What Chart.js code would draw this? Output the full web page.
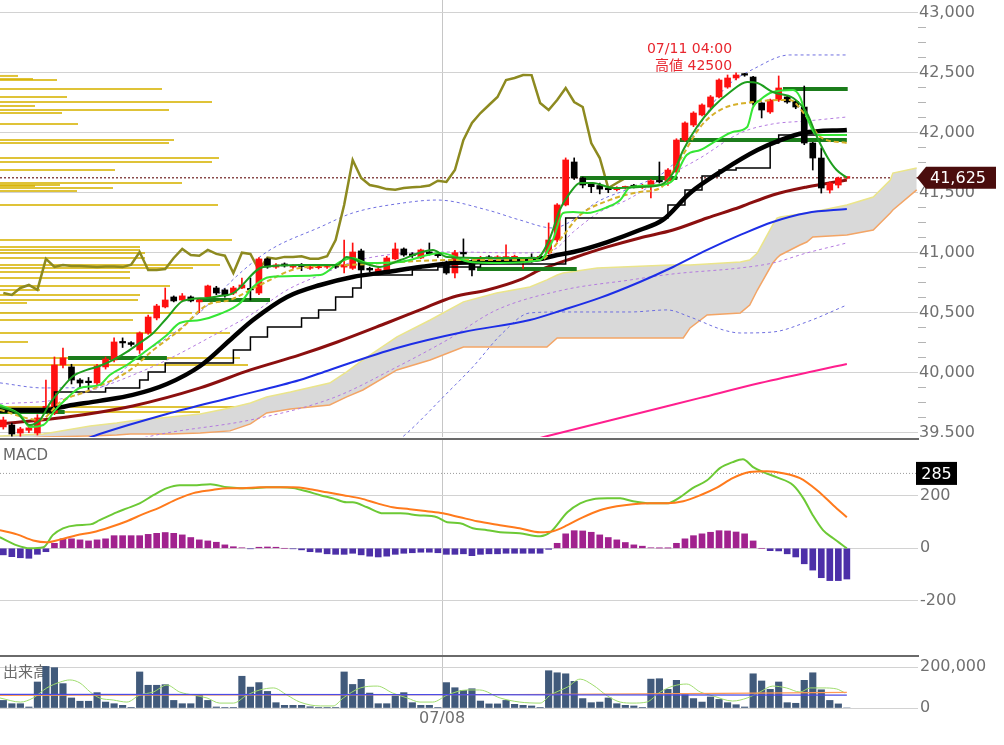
<!DOCTYPE html>
<html>
<head>
<meta charset="utf-8">
<script src="https://cdn.jsdelivr.net/npm/chart.js@4.4.1/dist/chart.umd.min.js"></script>
<style>
html,body{margin:0;padding:0;background:#fff;width:1004px;height:745px;overflow:hidden}
.panel{position:absolute;left:0;width:1004px;overflow:hidden}
.panel canvas{position:absolute;left:0}
</style>
</head>
<body>
<div class="panel" style="top:0;height:437px"><canvas id="cMain" width="1004" height="477" style="top:-20px"></canvas></div>
<div class="panel" style="top:437px;height:220px"><canvas id="cMacd" width="1004" height="257" style="top:-18px"></canvas></div>
<div class="panel" style="top:657px;height:88px"><canvas id="cVol" width="1004" height="108" style="top:-20px"></canvas></div>
<script>
// ---------- axis / category data ----------
const xMin = -0.39, xMax = 107.35;
const sessionTickIndex = [51.5];
const sessionTickLabels = ['07/08'];
const priceTickFirst = 39500, priceTickLast = 43000, priceMinorStep = 125, priceLabelStep = 500;
const macdTicks = [-200, 0, 200];
const volumeTicks = [0, 200000];

// ---------- candles (2h bars) ----------
const opens = [39548,39564,39497,39520,39497,39690,39664,40064,40048,39939,
 39925,39914,40048,40106,40255,40250,40189,40331,40456,40548,
 40631,40606,40631,40590,40631,40706,40690,40664,40706,40700,
 40664,40948,40880,40906,40880,40890,40870,40875,40880,40885,
 40880,40870,41015,40870,40831,40856,40948,41031,40990,40956,
 41006,40990,40915,40831,41000,40914,40940,40965,40950,40955,
 40950,40940,40960,40950,40998,41106,41398,41756,41622,41570,
 41560,41530,41525,41540,41560,41545,41560,41600,41600,41673,
 41939,42064,42148,42214,42298,42381,42456,42490,42464,42248,
 42173,42273,42298,42260,42214,41914,41789,41522,41564,41622];
const highs = [39630,39580,39545,39560,39650,39939,40131,40206,40070,39950,
 39960,40070,40130,40290,40290,40260,40340,40480,40570,40706,
 40640,40660,40640,40615,40730,40720,40700,40720,40789,40789,
 40960,40956,40910,40915,40900,40910,40890,40890,40895,40895,
 41106,41081,41030,40880,40880,40970,41081,41040,41000,41030,
 41081,41000,40930,41020,41115,40940,40970,40975,40975,41065,
 40980,40960,40990,40980,41248,41410,41790,41790,41630,41580,
 41580,41545,41550,41555,41570,41570,41610,41756,41700,41950,
 42090,42175,42240,42310,42450,42481,42500,42495,42470,42250,
 42280,42473,42310,42270,42389,41920,41873,41590,41630,41630];
const lows = [39530,39470,39470,39500,39480,39680,39650,40040,39906,39880,
 39860,39900,40030,40090,40210,40220,40160,40320,40440,40540,
 40590,40595,40590,40500,40620,40650,40630,40650,40700,40606,
 40650,40870,40870,40880,40870,40850,40860,40865,40870,40870,
 40831,40860,40800,40840,40820,40850,40940,40970,40960,40950,
 40980,40960,40820,40790,40960,40806,40930,40940,40940,40940,
 40940,40870,40920,40940,40990,41090,41390,41610,41540,41500,
 41490,41500,41515,41530,41540,41535,41456,41580,41560,41660,
 41930,42050,42140,42200,42290,42370,42440,42470,42230,42123,
 42160,42260,42245,42200,41900,41689,41497,41497,41540,41615];
const closes = [39606,39489,39531,39540,39623,39720,40064,40123,39939,39914,
 39917,40056,40114,40256,40248,40235,40331,40464,40556,40606,
 40598,40640,40598,40606,40723,40664,40648,40706,40731,40690,
 40948,40881,40898,40890,40890,40885,40880,40885,40885,40880,
 40900,41006,40856,40856,40864,40956,41031,40981,40975,41023,
 40990,40975,40831,41000,40990,40856,40960,40950,40965,40965,
 40970,40950,40950,40970,41106,41398,41773,41622,41564,41550,
 41530,41525,41540,41545,41550,41560,41600,41590,41689,41939,
 42081,42164,42231,42298,42439,42456,42481,42480,42248,42189,
 42273,42373,42256,42214,41914,41789,41539,41581,41622,41625];
const chikouShift = 25;
const lastPrice = 41625;
const highMark = { index: 86, value: 42500, time: '07/11 04:00', label: '高値' };

// ---------- overlay lines: [barIndex, price] ----------
const ma5Line = [[-0.4,39714],[1.6,39664],[3.1,39564],[4.3,39606],[5.5,39748],[6.7,39856],[8.2,39973],[9.8,40023],[11.3,40056],[12.9,40106],[14.5,40173],[16.0,40248],[17.6,40331],[19.2,40456],[21.1,40598],[23.9,40623],[25.4,40639],[27.0,40664],[30.5,40881],[34.8,40898],[39.2,40898],[40.3,40964],[41.9,40923],[44.2,40881],[46.6,40939],[50.4,41023],[52.1,40964],[56.8,40956],[62.6,40956],[64.2,41131],[65.3,41356],[66.5,41498],[67.7,41581],[69.2,41581],[71.6,41539],[74.7,41548],[77.1,41564],[78.6,41664],[79.8,41856],[81.4,42048],[83.3,42214],[85.3,42339],[87.3,42423],[88.5,42414],[90.3,42339],[92.7,42289],[94.3,42164],[95.5,41964],[96.7,41798],[97.8,41689],[99,41625]];
const tenkanLine = [[-0.4,39731],[2.0,39648],[3.1,39548],[4.7,39564],[6.1,39690],[7.5,39790],[9.0,39873],[11.3,39898],[12.5,39981],[14.5,40064],[16.9,40189],[19.2,40314],[20.7,40414],[23.1,40439],[25.4,40489],[27.8,40581],[29.3,40714],[31.3,40798],[37.2,40814],[39.5,40923],[41.0,40956],[42.7,40914],[46.6,40923],[51.3,40998],[54.8,40923],[58.3,40914],[63.0,40939],[64.5,41106],[65.7,41331],[66.9,41339],[68.5,41331],[70.9,41381],[72.4,41440],[73.6,41548],[77.1,41564],[78.6,41606],[80.2,41814],[81.8,41856],[83.8,41939],[85.6,42006],[87.3,42048],[88.0,42214],[88.8,42273],[90.3,42339],[92.7,42356],[93.5,42298],[94.3,42131],[95.5,41981],[99,41981]];
const ma10Line = [[-0.4,39689],[4.3,39606],[6.7,39756],[10.2,39856],[14.9,40023],[17.6,40189],[20.7,40356],[23.9,40564],[26.6,40606],[30.1,40731],[34.8,40873],[40.7,40898],[46.6,40923],[52.4,40939],[63.0,40939],[65.3,41106],[67.7,41314],[71.2,41440],[74.7,41506],[77.1,41539],[79.4,41773],[81.8,42048],[84.1,42189],[88.0,42256],[92.3,42273],[94.1,42148],[95.9,41964],[99,41914]];
const ma25Line = [[-0.4,39689],[4.9,39689],[7.5,39723],[11.3,39765],[15.2,39815],[19.2,39906],[23.1,40056],[27.0,40298],[29.3,40439],[33.3,40631],[37.2,40731],[41.0,40798],[45.0,40839],[48.9,40881],[52.8,40914],[56.8,40923],[60.6,40931],[63.0,40948],[65.0,40981],[66.9,41006],[70.9,41089],[74.7,41189],[77.4,41273],[80.6,41498],[84.5,41689],[88.5,41856],[91.2,41939],[93.9,41998],[99,42023]];
const kijunLine = [[-0.4,39673],[6,39839],[12,39873],[16,39939],[17,40006],[19,40081],[27,40189],[29,40298],[31,40381],[35,40456],[37,40523],[39,40631],[41,40706],[42,40814],[48,40856],[51,40881],[56,40906],[66,41289],[78,41398],[80,41523],[82,41639],[84,41689],[86,41706],[90,41914],[91,41981],[99,41981]];
const ma75Line = [[-0.4,39573],[7.5,39631],[15.2,39723],[23.1,39873],[29.0,40023],[34.8,40148],[39.2,40256],[45.0,40414],[48.9,40523],[52.8,40631],[56.8,40689],[60.6,40773],[63.0,40856],[66.9,40956],[70.9,41048],[74.7,41123],[78.6,41189],[82.6,41289],[86.5,41381],[90.3,41481],[94.3,41548],[99,41606]];
const ma100Line = [[9.0,39430],[11.3,39489],[19.2,39656],[27.0,39798],[34.8,39939],[38.3,40023],[46.2,40206],[54.0,40339],[61.8,40439],[65.7,40523],[70.0,40623],[74.7,40756],[78.6,40881],[82.6,41023],[86.5,41148],[90.3,41256],[94.3,41331],[99,41364]];
const ma200Line = [[63.0,39456],[65.3,39498],[74.7,39664],[81.8,39790],[88.8,39914],[99,40073]];
const bbUpper1 = [[-0.4,39740],[6.7,39781],[17.2,40040],[25.4,40339],[29.0,40481],[33.3,40689],[37.2,40814],[41.0,40923],[45.0,40981],[52.8,41006],[60.6,40998],[64.5,41023],[66.9,41173],[70.0,41340],[73.2,41440],[77.1,41606],[81.8,41790],[86.5,41998],[90.3,42073],[94.3,42098],[99,42131]];
const bbLower1 = [[15.2,39439],[19.2,39498],[29.0,39606],[38.7,39790],[46.2,40048],[52.1,40273],[57.9,40523],[65.7,40689],[73.6,40773],[78.6,40823],[86.5,40873],[90.3,40914],[94.3,40998],[99,41081]];
const bbUpper2 = [[-0.4,39915],[4.7,39873],[11.3,39881],[16.0,40148],[19.2,40289],[23.1,40506],[27.8,40831],[31.3,41023],[37.2,41214],[41.0,41331],[46.9,41414],[50.9,41439],[56.8,41356],[60.6,41273],[64.5,41206],[66.5,41256],[69.7,41423],[73.6,41539],[78.3,41714],[80.6,41940],[84.5,42356],[88.5,42548],[92.3,42648],[99,42648]];
const bbLower2 = [[44.2,39314],[47.4,39498],[52.1,39831],[55.1,40048],[58.6,40331],[61.8,40498],[65.7,40506],[73.6,40506],[77.9,40523],[80.6,40464],[84.5,40356],[86.5,40331],[90.3,40339],[94.3,40423],[99,40564]];
const cloudIndex = [-0.4,4.7,10.2,13.3,14.9,19.6,23.1,26.6,29.0,30.9,33.7,38.3,40.3,42.2,46.2,50.1,54.0,57.9,61.8,63.8,65.0,65.7,69.7,78.3,79.8,80.6,82.6,86.5,87.6,88.5,90.3,90.8,91.2,93.5,94.3,95.0,99.0,102.1,104.1,104.4,107.2];
const senkouA = [39473,39489,39556,39581,39598,39631,39656,39706,39748,39798,39839,39914,40006,40106,40298,40439,40590,40664,40714,40773,40814,40831,40873,40898,40898,40898,40906,40923,40939,40998,41231,41289,41298,41323,41331,41339,41398,41464,41606,41664,41706];
const senkouB = [39439,39464,39473,39481,39489,39489,39498,39515,39573,39664,39698,39731,39798,39856,40023,40106,40214,40214,40214,40214,40289,40289,40289,40289,40289,40373,40481,40498,40564,40689,40914,40956,40981,41064,41089,41131,41148,41189,41331,41356,41523];
// [startIndex, endIndex, price]
const levelLines = [[-0.4,7.2,39673],[7.6,19.2,40123],[22.7,31.3,40606],[55.6,67.3,40864],[67.7,79.1,41623],[79.4,99,41939],[91.5,99.1,42364]];
// price-by-volume profile
const profilePrices = [42473,42448,42439,42364,42298,42256,42223,42189,42164,42073,41939,41914,41789,41756,41689,41581,41564,41556,41539,41514,41398,41106,41048,41023,40998,40956,40898,40873,40839,40789,40723,40689,40648,40606,40581,40498,40439,40331,40256,40123,40064,39714,39673];
const profileVolumes = [900,1650,2850,8100,3350,10600,1750,8450,3100,3900,8700,8450,10950,10600,5750,9100,3000,1750,5650,3850,10900,11600,7000,7000,7250,7250,11000,9650,6500,6500,8500,2000,7000,6900,1350,9600,6650,11500,1400,12000,12400,12500,10000];
const profileMax = 45900;

// ---------- MACD ----------
const macdLine = [[-0.4,42],[1.6,11],[3.1,0],[4.7,4],[5.8,50],[7.0,76],[8.6,88],[10.2,91],[11.3,107],[13.3,137],[14.5,152],[16.0,171],[17.6,202],[19.2,229],[20.7,240],[22.3,240],[24.3,244],[26.3,232],[27.8,229],[29.3,229],[30.9,232],[32.5,232],[34.0,229],[35.6,217],[37.2,202],[38.7,190],[40.3,175],[41.0,175],[42.7,156],[44.6,133],[46.6,133],[48.6,126],[50.9,118],[52.1,99],[53.6,95],[55.1,76],[56.8,69],[58.3,61],[60.6,57],[63.0,46],[64.2,61],[66.2,137],[67.7,171],[69.2,187],[70.9,190],[72.4,190],[73.9,179],[75.9,171],[77.9,171],[79.4,194],[80.9,229],[82.6,259],[84.1,305],[85.6,328],[86.8,339],[88.0,309],[89.2,290],[90.8,270],[92.7,240],[93.9,190],[95.0,126],[96.2,69],[97.4,38],[99,0]];
const signalLine = [[-0.4,69],[1.6,53],[3.5,30],[5.1,23],[6.7,34],[8.6,50],[10.5,61],[12.5,80],[14.5,103],[16.4,130],[18.4,156],[20.4,187],[22.3,210],[24.3,221],[26.3,229],[28.1,229],[30.1,232],[32.1,232],[34.0,232],[36.0,225],[38.0,213],[39.9,202],[41.9,190],[43.9,171],[45.7,156],[47.7,149],[49.7,141],[51.6,133],[53.6,118],[55.6,103],[58.3,88],[60.6,76],[63.0,61],[64.5,65],[66.2,88],[68.0,118],[70.0,145],[72.0,160],[73.9,168],[75.9,171],[77.9,171],[79.8,179],[81.8,202],[83.8,232],[85.6,267],[87.6,290],[89.6,293],[91.5,286],[93.5,267],[95.5,221],[97.4,164],[99,118]];
const macdHist = [-25,-32,-36,-38,-23,-13,19,36,36,32,28,32,36,48,48,48,48,53,57,60,57,51,41,32,28,23,13,6,2,-2,4,5,4,0,-2,-6,-13,-15,-21,-23,-23,-19,-25,-30,-33,-30,-23,-19,-17,-15,-15,-17,-23,-23,-21,-28,-23,-21,-21,-19,-19,-19,-19,-19,-4,19,55,67,66,61,51,41,32,22,13,8,2,1,1,19,36,48,55,61,67,66,62,55,28,0,-9,-10,-21,-33,-59,-83,-112,-123,-123,-117];
const macdMarker = 285;

// ---------- volume ----------
const volumes = [37000,21000,21000,5000,127000,203000,197000,119000,49000,33000,33000,75000,29000,21000,13000,3000,176000,111000,111000,114000,37000,21000,21000,65000,37000,5000,2000,2000,155000,102000,124000,81000,26000,13000,13000,13000,6000,2000,2000,2000,176000,115000,140000,73000,21000,21000,59000,75000,26000,13000,13000,2000,124000,99000,86000,94000,34000,20000,20000,37000,18000,13000,10000,2000,182000,172000,167000,130000,46000,26000,29000,49000,21000,13000,10000,2000,141000,143000,91000,135000,65000,46000,29000,54000,42000,26000,16000,5000,167000,132000,91000,127000,26000,23000,135000,172000,89000,37000,20000,0];
const volMaShort = [[-0.4,49000],[2.0,29000],[3.5,49000],[5.1,98000],[6.7,127000],[7.8,137000],[9.0,122000],[10.2,78000],[11.3,49000],[12.9,39000],[14.5,29000],[16.0,63000],[17.6,78000],[19.2,112000],[20.7,78000],[22.3,63000],[23.9,49000],[25.4,24000],[27.0,24000],[28.6,63000],[30.1,88000],[31.7,98000],[33.3,63000],[34.8,29000],[37.2,10000],[38.7,10000],[39.9,49000],[41.9,98000],[43.9,107000],[45.7,73000],[47.4,49000],[48.9,29000],[50.4,29000],[52.1,63000],[54.4,88000],[55.9,88000],[58.3,49000],[60.6,29000],[63.0,24000],[64.2,63000],[66.2,102000],[67.7,141000],[69.2,112000],[70.9,59000],[72.4,29000],[73.9,24000],[75.5,29000],[77.1,78000],[78.6,107000],[80.2,117000],[81.8,78000],[83.3,59000],[85.6,34000],[87.3,49000],[88.8,78000],[90.3,107000],[91.9,98000],[93.5,78000],[94.7,98000],[96.2,98000],[97.8,93000],[98.8,73000]];
const volMaMid = [[-0.4,62000],[30,64000],[60,66000],[80,70000],[99,76000]];
const volMaLong = [[-0.4,67000],[50,65000],[99,63000]];

// ---------- helpers ----------
const FONT = '"DejaVu Sans", "Noto Sans CJK JP", sans-serif';
const toXY = pairs => pairs.map(([x, y]) => ({ x, y }));
function lineDs(pairs, color, width, order, extra) {
  return Object.assign({
    type: 'line', data: toXY(pairs), borderColor: color, borderWidth: width,
    pointRadius: 0, fill: false, cubicInterpolationMode: 'monotone', order,
    xAxisID: 'x', yAxisID: 'y'
  }, extra || {});
}
function xAxis(showLabels, showBorder) {
  return {
    type: 'linear', min: xMin, max: xMax, offset: false,
    afterBuildTicks: s => { s.ticks = sessionTickIndex.map(v => ({ value: v })); },
    afterFit: s => { s.height = showLabels ? 37 : 0; },
    grid: { display: true, offset: false, color: '#c6c6c6', lineWidth: 1, drawTicks: false },
    border: { display: showBorder, color: '#6a6a6a', width: 2 },
    ticks: { display: showLabels, padding: 1, color: '#707070', autoSkip: false, maxRotation: 0,
      font: { family: FONT, size: 16 }, callback: (v, i) => sessionTickLabels[i] ?? '' }
  };
}
// top edge divider for a lower panel
function topEdgeAxis() {
  return {
    type: 'linear', position: 'top', min: xMin, max: xMax, offset: false,
    afterFit: s => { s.height = 0; },
    grid: { display: false, drawTicks: false },
    border: { display: true, color: '#6a6a6a', width: 2 },
    ticks: { display: false }
  };
}
function yAxis(min, max, tickValues, labelFn, majorFn, drawTicks, padding) {
  return {
    type: 'linear', position: 'right', min, max,
    afterBuildTicks: s => { s.ticks = tickValues.map(v => ({ value: v })); },
    afterFit: s => { s.width = 86; },
    grid: {
      color: c => (c.tick && majorFn(c.tick.value)) ? '#d2d2d2' : 'rgba(0,0,0,0)',
      tickColor: c => (c.tick && !majorFn(c.tick.value)) ? '#b4b4b4' : 'rgba(0,0,0,0)',
      drawTicks, tickLength: 8, lineWidth: 1
    },
    border: { display: false },
    ticks: { padding, color: '#707070', autoSkip: false, font: { family: FONT, size: 16 },
      callback: v => majorFn(v) ? labelFn(v) : '' }
  };
}
const fmt = v => v.toLocaleString('en-US');
const common = { responsive: false, animation: false, events: [],
  plugins: { legend: { display: false }, tooltip: { enabled: false } } };

// ---------- main chart ----------
const priceTicks = [];
for (let v = priceTickFirst; v <= priceTickLast; v += priceMinorStep) priceTicks.push(v);
const upColor = '#ff1010', downColor = '#000000';
const candleColor = c => { const i = c.dataIndex; return closes[i] >= opens[i] ? upColor : downColor; };

const mainDatasets = [];
profilePrices.forEach((p, k) => {
  mainDatasets.push({ type: 'line', xAxisID: 'xp', yAxisID: 'y', order: 100,
    data: [{ x: 0, y: p }, { x: profileVolumes[k], y: p }],
    borderColor: 'rgba(214,178,0,0.78)', borderWidth: 2, pointRadius: 0, fill: false });
});
mainDatasets.push(lineDs([[xMin, lastPrice], [xMax, lastPrice]], '#8a4a4a', 1.5, 96, { borderDash: [2, 2] }));
mainDatasets.push({ type: 'line', order: 90, xAxisID: 'x', yAxisID: 'y',
  data: cloudIndex.map((x, i) => ({ x, y: senkouA[i] })), borderColor: '#ebe58a', borderWidth: 1.5,
  pointRadius: 0, fill: '+1', backgroundColor: '#d9d9d9' });
mainDatasets.push({ type: 'line', order: 89, xAxisID: 'x', yAxisID: 'y',
  data: cloudIndex.map((x, i) => ({ x, y: senkouB[i] })), borderColor: '#f3a566', borderWidth: 1.5,
  pointRadius: 0, fill: false });
mainDatasets.push(lineDs(bbUpper2, '#6f6fe0', 1, 80, { borderDash: [3, 3] }));
mainDatasets.push(lineDs(bbLower2, '#6f6fe0', 1, 80, { borderDash: [3, 3] }));
mainDatasets.push(lineDs(bbUpper1, '#b47be0', 1, 80, { borderDash: [3, 3] }));
mainDatasets.push(lineDs(bbLower1, '#b47be0', 1, 80, { borderDash: [3, 3] }));
mainDatasets.push(lineDs(ma200Line, '#ff1f8e', 2, 72));
mainDatasets.push(lineDs(ma100Line, '#1d2ee6', 2, 71));
mainDatasets.push(lineDs(ma75Line, '#8b0f0f', 3, 70));
mainDatasets.push(lineDs(closes.slice(chikouShift).map((c, i) => [i, c]), '#8d8a20', 2.5, 60, { cubicInterpolationMode: 'default', tension: 0 }));
levelLines.forEach(([a, b, p]) => mainDatasets.push(lineDs([[a, p], [b, p]], '#1b7c1b', 4, 55)));
mainDatasets.push({ type: 'bar', order: 50, grouped: false, barThickness: 1,
  data: lows.map((l, i) => ({ x: i, y: [l, highs[i]] })), backgroundColor: candleColor });
mainDatasets.push({ type: 'bar', order: 49, grouped: false, barThickness: 6, minBarLength: 1.5,
  data: opens.map((o, i) => ({ x: i, y: [o, closes[i]] })), backgroundColor: candleColor });
mainDatasets.push(lineDs(kijunLine, '#000000', 1.5, 45, { stepped: 'before', cubicInterpolationMode: 'default' }));
mainDatasets.push(lineDs(ma25Line, '#000000', 4.5, 44));
mainDatasets.push(lineDs(ma10Line, '#d6b02a', 2, 43, { borderDash: [5, 3] }));
mainDatasets.push(lineDs(tenkanLine, '#35e635', 2, 42));
mainDatasets.push(lineDs(ma5Line, '#1e9e1e', 2, 41));

const mainDecor = {
  id: 'mainDecor',
  afterDatasetsDraw(chart) {
    const { ctx, scales: { x, y } } = chart;
    const px = x.getPixelForValue(highMark.index), py = y.getPixelForValue(highMark.value);
    ctx.save();
    ctx.fillStyle = '#e8262e';
    ctx.font = '14px ' + FONT;
    ctx.textAlign = 'right'; ctx.textBaseline = 'alphabetic';
    ctx.fillText(highMark.time, px - 4, py - 19.5);
    ctx.fillText(highMark.label + ' ' + highMark.value, px - 4, py - 2.5);
    ctx.restore();
  },
  afterDraw(chart) {
    const { ctx, chartArea, scales: { y } } = chart;
    const yy = y.getPixelForValue(lastPrice), l = chartArea.right;
    ctx.save();
    ctx.fillStyle = '#4a0d0d';
    ctx.beginPath();
    ctx.moveTo(l - 1, yy); ctx.lineTo(l + 8, yy - 11); ctx.lineTo(l + 78, yy - 11);
    ctx.lineTo(l + 78, yy + 11); ctx.lineTo(l + 8, yy + 11); ctx.closePath(); ctx.fill();
    ctx.fillStyle = '#ffffff'; ctx.font = '16px ' + FONT;
    ctx.textAlign = 'center'; ctx.textBaseline = 'middle';
    ctx.fillText(fmt(lastPrice), l + 40, yy + 1);
    ctx.restore();
  }
};

new Chart(document.getElementById('cMain'), {
  type: 'bar',
  data: { datasets: mainDatasets },
  options: Object.assign({}, common, {
    layout: { padding: { top: 20, bottom: 20, left: 0, right: 0 } },
    scales: {
      x: xAxis(false, false),
      xp: { type: 'linear', display: false, min: 0, max: profileMax, offset: false, grid: { offset: false } },
      y: yAxis(39464, 43106, priceTicks, fmt, v => v % priceLabelStep === 0, true, -7)
    }
  }),
  plugins: [mainDecor]
});

// ---------- MACD chart ----------
const macdDecor = {
  id: 'macdDecor',
  afterDraw(chart) {
    const { ctx, chartArea, scales: { y } } = chart;
    ctx.save();
    ctx.fillStyle = '#6a6a6a'; ctx.font = '15px ' + FONT;
    ctx.textAlign = 'left'; ctx.textBaseline = 'middle';
    ctx.fillText('MACD', chartArea.left + 3, chartArea.top + 17);
    const yy = y.getPixelForValue(macdMarker), l = chartArea.right;
    ctx.fillStyle = '#000000';
    ctx.fillRect(l - 2, yy - 11.5, 41, 23);
    ctx.fillStyle = '#ffffff'; ctx.font = '16px ' + FONT; ctx.textAlign = 'center';
    ctx.fillText(String(macdMarker), l + 18.5, yy + 1);
    ctx.restore();
  }
};
new Chart(document.getElementById('cMacd'), {
  type: 'bar',
  data: { datasets: [
    { type: 'bar', order: 10, grouped: false, barThickness: 6,
      data: macdHist.map((v, i) => ({ x: i, y: v })),
      backgroundColor: c => (c.raw && c.raw.y >= 0) ? '#a1228e' : '#4c2fa8' },
    lineDs([[xMin, macdMarker], [xMax, macdMarker]], '#9a9a9a', 1, 8, { borderDash: [1, 2] }),
    lineDs(macdLine, '#6cc935', 2, 2),
    lineDs(signalLine, '#ff7a1c', 2, 1)
  ] },
  options: Object.assign({}, common, {
    layout: { padding: { top: 20, bottom: 20, left: 0, right: 0 } },
    scales: {
      x: xAxis(false, true),
      xTop: topEdgeAxis(),
      y: yAxis(-410, 416, macdTicks, v => String(v), () => true, false, 2)
    }
  }),
  plugins: [macdDecor]
});

// ---------- volume chart ----------
const volDecor = {
  id: 'volDecor',
  beforeDatasetsDraw(chart) {
    const { ctx, chartArea } = chart;
    ctx.save();
    ctx.fillStyle = '#6a6a6a'; ctx.font = '15px ' + FONT;
    ctx.textAlign = 'left'; ctx.textBaseline = 'middle';
    ctx.fillText('出来高', chartArea.left + 3, chartArea.top + 16);
    ctx.restore();
  }
};
new Chart(document.getElementById('cVol'), {
  type: 'bar',
  data: { datasets: [
    { type: 'bar', order: 10, grouped: false, barThickness: 6.5,
      data: volumes.map((v, i) => ({ x: i, y: v })), backgroundColor: '#415a7b' },
    lineDs(volMaShort, '#9fdc6e', 1, 3),
    lineDs(volMaMid, '#ff9a55', 1.2, 2),
    lineDs(volMaLong, '#4b4be6', 1.2, 1)
  ] },
  options: Object.assign({}, common, {
    layout: { padding: { top: 20, bottom: 0, left: 0, right: 0 } },
    scales: {
      x: xAxis(true, false),
      y: yAxis(0, 249000, volumeTicks, fmt, () => true, false, 2)
    }
  }),
  plugins: [volDecor]
});
</script>
</body>
</html>
